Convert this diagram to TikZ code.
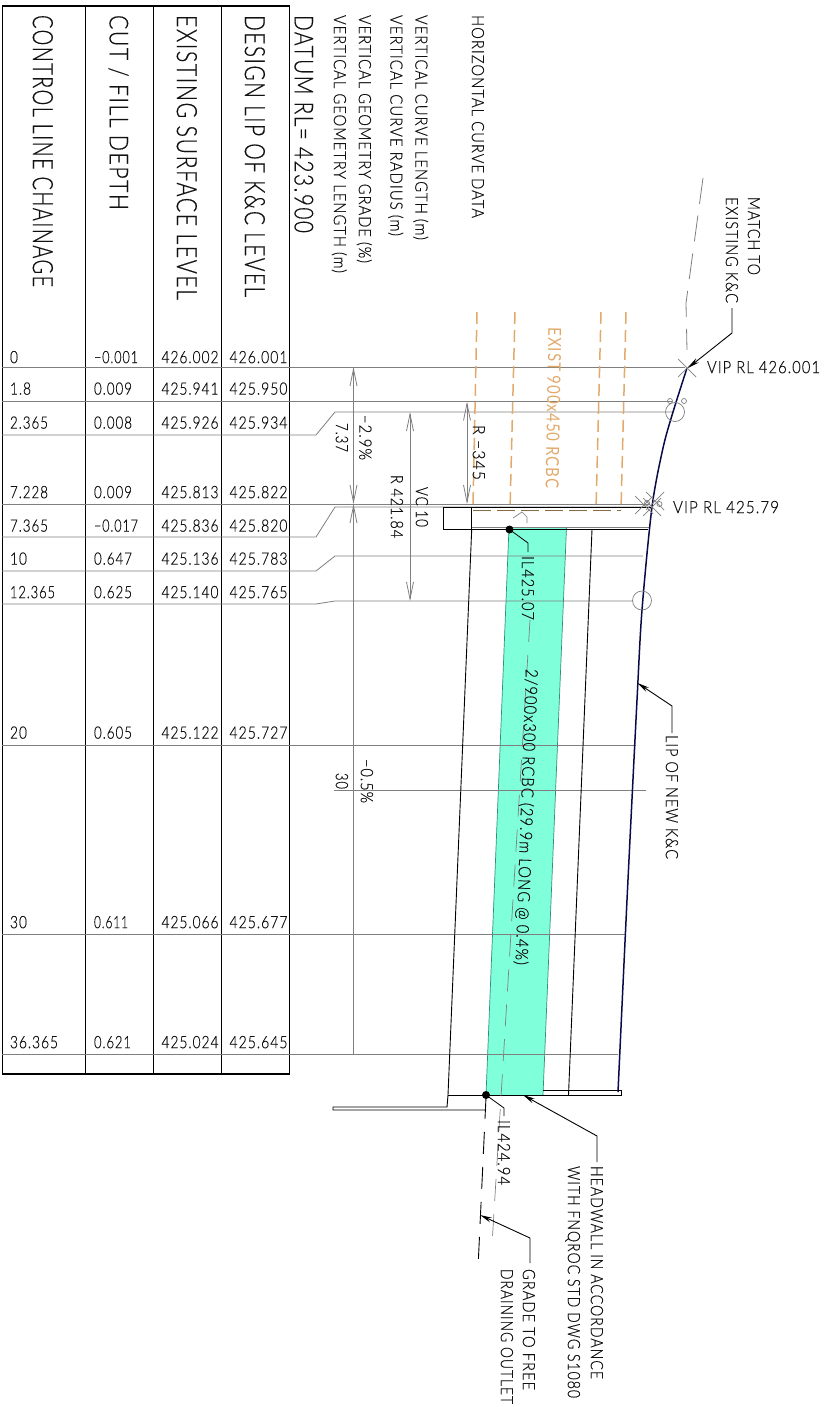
\documentclass[tikz,border=0pt]{standalone}
\usepackage{fontspec}
\usepackage{graphicx}
\setmainfont{Lato Light}[LetterSpace=7,FakeBold=0.5]
\newfontfamily\regf{Lato}[LetterSpace=7]
\usetikzlibrary{arrows.meta,calc}
\definecolor{gline}{HTML}{7F7F7F}
\definecolor{txtc}{HTML}{111111}
\definecolor{orng}{HTML}{E2A96C}
\definecolor{brn}{HTML}{8A6A45}
\definecolor{mint}{HTML}{80FFDB}
\definecolor{teal2}{HTML}{2F8F78}
\definecolor{lipc}{HTML}{0A0A48}
\newsavebox\tbx
\newcommand\TF[3]{\sbox\tbx{\fontsize{#1}{#1}\selectfont #3}\pgfmathsetmacro\rr{#2/\the\wd\tbx}\scalebox{\rr}[1]{\usebox\tbx}}
% \VT{name}{center x}{start y}{length}{size}{text} : reads downward
\newcommand\VT[6]{\node[lbl,rotate=-90,anchor=base west] (#1) at ({#2-0.36*#5},#3) {\TF{#5}{#4}{#6}};}
% \HT{name}{left x}{center y}{length}{size}{text}
\newcommand\HT[6]{\node[lbl,anchor=base west] (#1) at (#2,{#3+0.36*#5}) {\TF{#5}{#4}{#6}};}
\tikzset{
  lbl/.style={inner sep=0pt,outer sep=0pt,text=txtc},
  tbl/.style={black,line width=1.1pt},
  rowl/.style={gline,line width=.8pt},
  barb/.tip={Straight Barb[length=17pt,width=7pt,line width=.8pt]},
  dimn/.style={gline,line width=.8pt,{barb}-{barb}},
  geo/.style={black,line width=.9pt},
  exist/.style={orng,line width=1.5pt,dash pattern=on 12pt off 6pt},
  lead/.style={black,line width=.9pt,-{Stealth[length=12pt,width=5pt]}},
  svy/.style={gline,line width=.7pt},
}
\begin{document}
\begin{tikzpicture}[x=1pt,y=-1pt]
\useasboundingbox (0,0) rectangle (828,1407);
% culvert band
\fill[mint] (509,527) -- (566.5,527) -- (543,1095) -- (486,1095) -- cycle;
\draw[teal2,line width=.7pt] (509,527) -- (486,1095) (566.5,527) -- (543,1095);
% table
\draw[tbl] (2.3,6) rectangle (289.3,1074);
\foreach \x in {85.3,153.5,221.5} \draw[tbl] (\x,6) -- (\x,1074);
% rows and links
\draw[rowl] (2,367) -- (685,367);
\draw[rowl] (2,401.5) -- (672,401.5);
\draw[rowl] (2,435) -- (316,435) -- (335,412) -- (673,412);
\draw[rowl] (2,504) -- (650,504);
\draw[rowl] (2,537) -- (316,537) -- (335,507) -- (650,507);
\draw[rowl] (2,571) -- (316,571) -- (335,556) -- (643,556);
\draw[rowl] (2,604) -- (316,604) -- (335,601) -- (633,601);
\draw[rowl] (2,745) -- (636,745);
\draw[rowl] (2,934.5) -- (626,934.5);
\draw[rowl] (2,1054.5) -- (618,1054.5);
\draw[rowl] (334,790.5) -- (646,790.5);
% dimensions
\coordinate (d1) at (353.5,367); \coordinate (d2) at (353.5,504); \coordinate (d3) at (353.5,1054.5);
\draw[dimn] (d1) -- (d2);
\draw[gline,line width=.8pt,{barb}-] (d2) -- (d3);
\coordinate (d4) at (410,412); \coordinate (d5) at (410,601);
\draw[dimn] (d4) -- (d5);
\coordinate (d6) at (467,401.5); \coordinate (d7) at (467,504);
\draw[dimn] (d6) -- (d7);
% existing culvert
\draw[exist] (477,312) -- (473,505);
\draw[exist] (515,312) -- (510,510);
\draw[exist] (601,312) -- (596,510);
\draw[exist] (626,312) -- (621,510);
\draw[brn,line width=1pt,dash pattern=on 18pt off 6pt] (473,510) -- (621,510);
% structure
\draw[geo] (443,507) -- (652,507);
\draw[geo] (443,507) -- (443,529.5) -- (648,529.5);
\draw[gline,line width=.8pt] (472,527.5) -- (649,527.5);
\draw[geo] (471.7,507) -- (471.7,529.5);
\draw[geo] (471.7,529.5) -- (448,1095) -- (447,1107) -- (333,1107) -- (333,1110) -- (486,1110);
\draw[geo] (592,529.5) -- (568.5,1095);
\draw[geo] (448,1095) -- (621,1095) -- (621,1090) -- (543,1090);
\draw[gline,line width=.7pt] (513,518) -- (522,512) -- (527,517) -- (527,523);
% centre lines
\draw[gline,line width=.7pt,dash pattern=on 22pt off 13pt] (530,620) -- (492,1245);
\draw[black,line width=.9pt,dash pattern=on 22pt off 13pt] (486,1097) -- (478,1268);
\draw[gline,line width=.8pt,dash pattern=on 26pt off 12pt] (703,178) -- (686,303) -- (687,350);
% lip of kerb
\draw[lipc,line width=1.5pt,smooth] plot coordinates {(687,368)(673,412)(663,448)(652,507)(642,610)(637,700)(627,900)(618,1092)};
% survey marks
\foreach \a/\b in {687/368,652/507,644/505,655/501}
  \draw[svy] (\a-9,\b-9) -- (\a+9,\b+9) (\a-9,\b+9) -- (\a+9,\b-9);
\draw[gline,line width=.7pt] (675,412) circle (9.5) (670,401) circle (2.5) (684,401) circle (2.5);
\draw[gline,line width=.7pt] (642,600.5) circle (9.5) (659.5,504) circle (2.5) (647,503) circle (2.5);
% invert dots
\fill[black] (509.5,529.5) circle (4);
\fill[black] (486,1095) circle (4);
\draw[black,line width=.8pt] (509.5,529.5) -- (528,543) -- (528,552);
\draw[black,line width=.8pt] (486,1095) -- (504,1108) -- (504,1116);
% leaders
\coordinate (l1) at (732,308); \coordinate (l1a) at (732,333); \coordinate (l1b) at (688,368);
\draw[lead] (l1) -- (l1a) -- (l1b);
\coordinate (l2) at (672,733); \coordinate (l2a) at (672,706); \coordinate (l2b) at (637.5,683);
\draw[lead] (l2) -- (l2a) -- (l2b);
\coordinate (l3) at (597,1162); \coordinate (l3a) at (597,1136); \coordinate (l3b) at (523,1095);
\draw[lead] (l3) -- (l3a) -- (l3b);
\coordinate (l4) at (530,1263); \coordinate (l4a) at (530,1238); \coordinate (l4b) at (480,1215);
\draw[lead] (l4) -- (l4a) -- (l4b);
% table headings
\VT{h1}{43}{15}{272}{28}{CONTROL LINE CHAINAGE}
\VT{h2}{119}{15}{195}{26}{CUT / FILL DEPTH}
\VT{h3}{187}{15}{285}{28}{EXISTING SURFACE LEVEL}
\VT{h4}{255}{15}{282}{28}{DESIGN LIP OF K\&C LEVEL}
\VT{h5}{304}{15}{218}{26}{DATUM RL= 423.900}
\VT{s1}{340}{15}{258}{17}{VERTICAL GEOMETRY LENGTH (m)}
\VT{s2}{365}{15}{248}{17}{VERTICAL GEOMETRY GRADE (\%)}
\VT{s3}{396.5}{15}{221}{17}{VERTICAL CURVE RADIUS (m)}
\VT{s4}{421.5}{15}{225}{17}{VERTICAL CURVE LENGTH (m)}
\VT{s5}{478}{15}{203}{17}{HORIZONTAL CURVE DATA}
% table rows
\foreach \n/\y/\a/\la/\b/\lb/\c/\d in {
 r1/357/0/8/{−0.001}/44/426.002/426.001,
 r2/388.5/1.8/21/0.009/38/425.941/425.950,
 r3/422.5/2.365/38/0.008/38/425.926/425.934,
 r4/492/7.228/38/0.009/38/425.813/425.822,
 r5/525.5/7.365/38/{−0.017}/44/425.836/425.820,
 r6/558.5/10/17/0.647/38/425.136/425.783,
 r7/592/12.365/45/0.625/38/425.140/425.765,
 r8/732.5/20/17/0.605/38/425.122/425.727,
 r9/922/30/17/0.611/34/425.066/425.677,
 r10/1042/36.365/48/0.621/37/425.024/425.645}{
  \HT{\n a}{10}{\y}{\la}{17}{\a}
  \HT{\n b}{94}{\y}{\lb}{17}{\b}
  \HT{\n c}{161.5}{\y}{57}{17}{\c}
  \HT{\n d}{229.5}{\y}{58}{17}{\d}
}
% dimension labels
\VT{t1}{342}{423}{29}{17}{7.37}
\VT{t2}{365.5}{415}{45}{17}{−2.9\%}
\VT{t3}{397}{475}{63}{17}{R 421.84}
\VT{t4}{422}{487}{40}{17}{VC 10}
\VT{t5}{479}{425}{55}{17}{R −345}
\VT{t6}{342}{773}{16}{17}{30}
\VT{t7}{367}{759}{44}{17}{−0.5\%}
% plan labels
\node[lbl,rotate=-91,text=orng] (e1) at (553.5,408) {\TF{18}{161}{\regf EXIST 900x450 RCBC}};
\VT{il1}{528}{556}{64}{17}{IL425.07}
\node[lbl,rotate=-92] (cap) at (526,817) {\TF{17}{296}{2/900x300 RCBC (29.9m LONG @ 0.4\%)}};
\VT{il2}{504}{1120}{65}{17}{IL424.94}
\VT{m1}{754}{197}{78}{17}{MATCH TO}
\VT{m2}{732}{197}{106}{17}{EXISTING K\&C}
\HT{v1}{707}{367}{113}{17}{VIP RL 426.001}
\HT{v2}{673}{507}{106}{17}{VIP RL 425.79}
\VT{lp}{672}{735}{124}{17}{LIP OF NEW K\&C}
\VT{hw1}{597}{1166}{213}{17}{HEADWALL IN ACCORDANCE}
\VT{hw2}{574}{1166}{232}{17}{WITH FNQROC STD DWG S1080}
\VT{gr1}{529}{1269}{121}{17}{GRADE TO FREE}
\VT{gr2}{507}{1269}{135}{17}{DRAINING OUTLET}
\end{tikzpicture}
\end{document}
